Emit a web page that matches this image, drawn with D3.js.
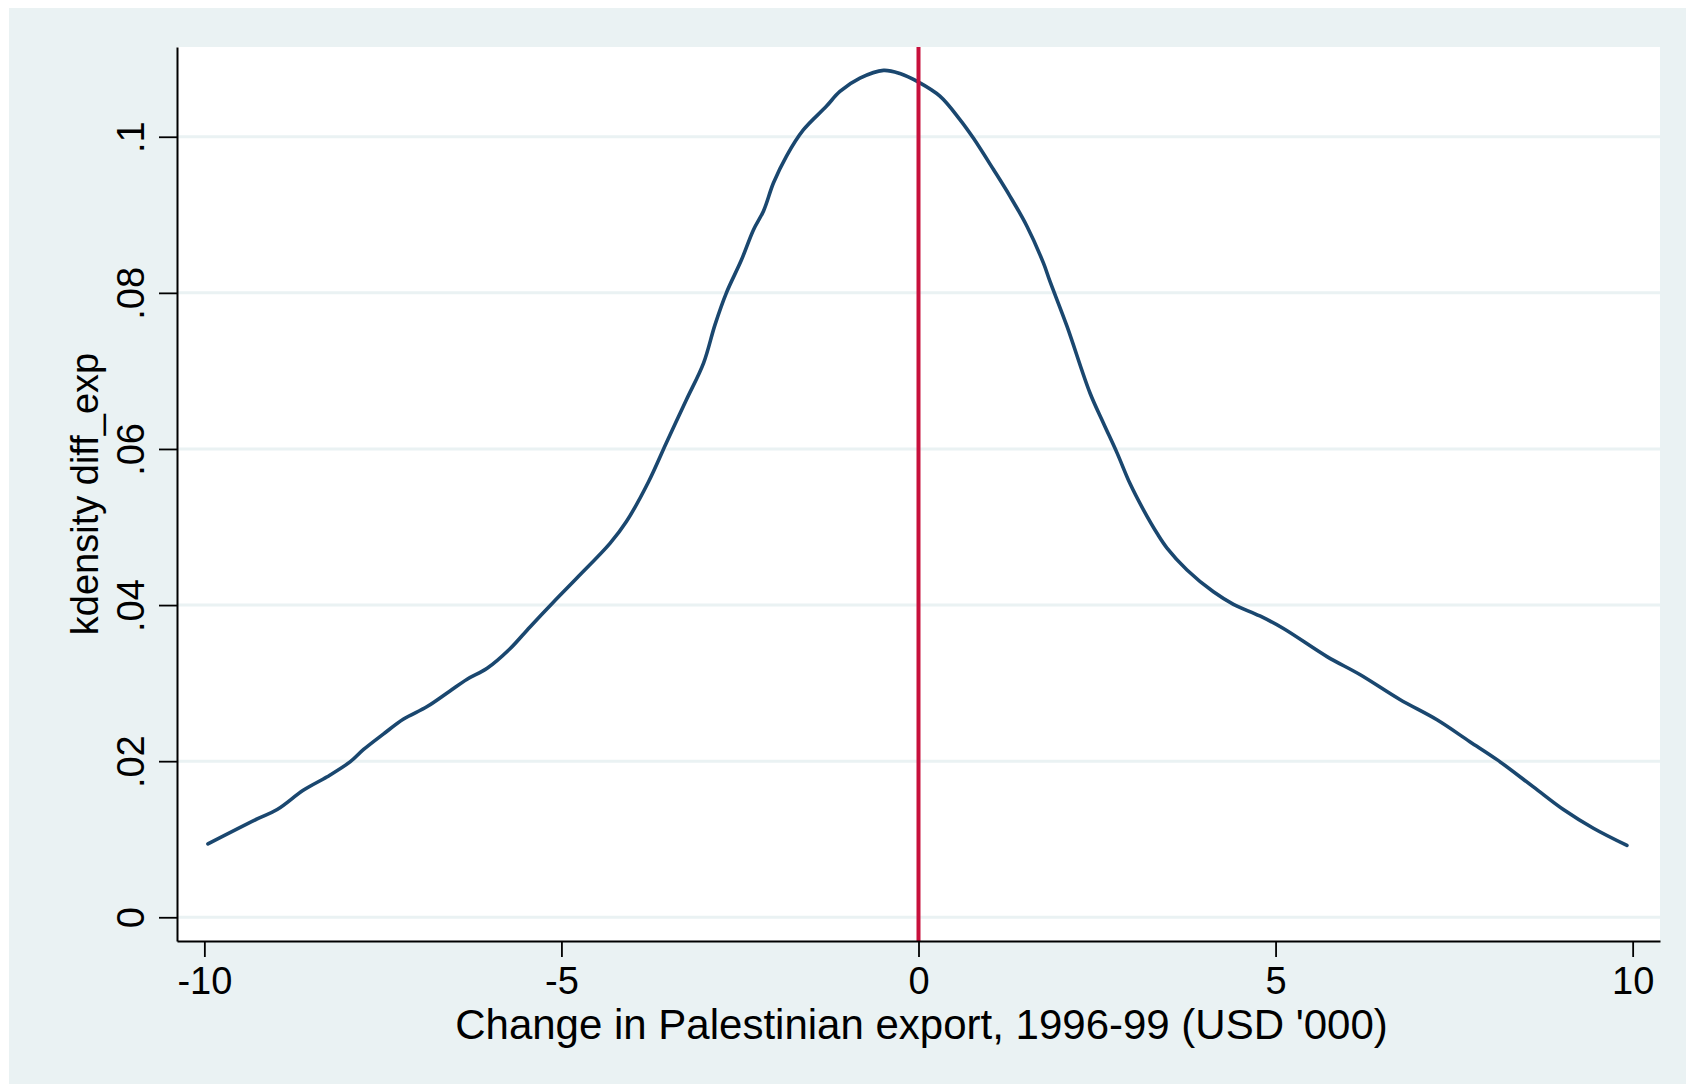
<!DOCTYPE html>
<html>
<head>
<meta charset="utf-8">
<script src="https://cdn.jsdelivr.net/npm/d3@7"></script>
<style>
  html, body { margin: 0; padding: 0; background: #ffffff; }
  svg { display: block; }
  text { font-family: "Liberation Sans", Arial, Helvetica, sans-serif; fill: #000; }
</style>
</head>
<body>
<svg id="chart" width="1686" height="1084"></svg>
<script>
// ---- data ----
const densityX = [-9.95, -9.26, -8.98, -8.61, -8.28, -7.96, -7.77, -7.49, -7.21, -6.88,
  -6.56, -6.32, -6.04, -5.72, -5.44, -5.11, -4.78, -4.32, -4.09, -3.78,
  -3.53, -3.25, -3.01, -2.85, -2.69, -2.48, -2.31, -2.17, -2.03, -1.85,
  -1.61, -1.29, -1.10, -0.82, -0.49, -0.26, 0.00, 0.30, 0.58, 0.77,
  1.05, 1.28, 1.52, 1.75, 1.84, 2.08, 2.40, 2.59, 2.78, 2.96,
  3.15, 3.34, 3.48, 3.76, 4.13, 4.41, 4.78, 5.11, 5.72, 6.18,
  6.74, 7.26, 7.72, 8.10, 8.61, 9.03, 9.45, 9.92];
const densityY = [0.0094, 0.0126, 0.0138, 0.0163, 0.0180, 0.0199, 0.0215, 0.0235, 0.0254, 0.0270,
  0.0290, 0.0305, 0.0319, 0.0344, 0.0372, 0.0404, 0.0435, 0.0479, 0.0507, 0.0558,
  0.0608, 0.0663, 0.0710, 0.0759, 0.0800, 0.0842, 0.0881, 0.0905, 0.0941, 0.0975,
  0.1009, 0.1039, 0.1058, 0.1075, 0.1085, 0.1081, 0.1070, 0.1052, 0.1022, 0.0998,
  0.0958, 0.0924, 0.0885, 0.0838, 0.0815, 0.0757, 0.0672, 0.0633, 0.0595, 0.0556,
  0.0522, 0.0492, 0.0473, 0.0445, 0.0417, 0.0401, 0.0386, 0.0370, 0.0334, 0.0311,
  0.0279, 0.0253, 0.0225, 0.0202, 0.0167, 0.0138, 0.0114, 0.0092];
const xTicks = [-10, -5, 0, 5, 10];
const xTickLabels = ["-10", "-5", "0", "5", "10"];
const yTicks = [0, 0.02, 0.04, 0.06, 0.08, 0.1];
const yTickLabels = ["0", ".02", ".04", ".06", ".08", ".1"];
const xLineAt = 0;
const xTitle = "Change in Palestinian export, 1996-99 (USD '000)";
const yTitle = "kdensity diff_exp";

// ---- layout ----
const W = 1686, H = 1084;
const plot = { left: 177, right: 1660, top: 47, bottom: 941 };
const bg = "#eaf2f3";

const svg = d3.select("#chart");

svg.append("rect").attr("x", 0).attr("y", 0).attr("width", W).attr("height", H).attr("fill", "#ffffff");
svg.append("rect").attr("x", 9).attr("y", 8).attr("width", W - 9).attr("height", H - 8).attr("fill", bg);
svg.append("rect")
  .attr("x", plot.left).attr("y", plot.top)
  .attr("width", plot.right - plot.left).attr("height", plot.bottom - plot.top)
  .attr("fill", "#ffffff");

const x = d3.scaleLinear().domain([-10.383, 10.383]).range([plot.left, plot.right]);
const y = d3.scaleLinear().domain([-0.00304, 0.1115]).range([plot.bottom, plot.top]);

// gridlines
svg.append("g").selectAll("line").data(yTicks).join("line")
  .attr("x1", plot.left).attr("x2", plot.right)
  .attr("y1", d => y(d)).attr("y2", d => y(d))
  .attr("stroke", bg).attr("stroke-width", 3);

// density curve
const pts = densityX.map((v, i) => [v, densityY[i]]);
svg.append("path")
  .datum(pts)
  .attr("fill", "none")
  .attr("stroke", "#1a476f")
  .attr("stroke-width", 3.6)
  .attr("stroke-linejoin", "round")
  .attr("stroke-linecap", "round")
  .attr("d", d3.line().x(d => x(d[0])).y(d => y(d[1])).curve(d3.curveCatmullRom.alpha(0.5)));

// vertical reference line
svg.append("line")
  .attr("x1", x(xLineAt)).attr("x2", x(xLineAt))
  .attr("y1", plot.top).attr("y2", plot.bottom)
  .attr("stroke", "#c8103c").attr("stroke-width", 4);

// y axis
const yAxis = svg.append("g")
  .attr("transform", `translate(${plot.left},0)`)
  .call(d3.axisLeft(y).tickValues(yTicks).tickSize(18).tickSizeOuter(0)
    .tickFormat((d, i) => yTickLabels[i]));
yAxis.select(".domain").attr("stroke", "#000").attr("stroke-width", 2);
yAxis.selectAll(".tick line").attr("stroke", "#000").attr("stroke-width", 1.8);
yAxis.selectAll(".tick text")
  .attr("x", null).attr("dy", null)
  .attr("text-anchor", "middle")
  .attr("transform", "translate(-33,0) rotate(-90)")
  .attr("font-size", 38)
  .attr("font-family", '"Liberation Sans", Arial, sans-serif')
  .attr("fill", "#000");

// x axis
const xAxis = svg.append("g")
  .attr("transform", `translate(0,${plot.bottom})`)
  .call(d3.axisBottom(x).tickValues(xTicks).tickSize(16).tickSizeOuter(0)
    .tickFormat((d, i) => xTickLabels[i]));
xAxis.select(".domain").attr("stroke", "#000").attr("stroke-width", 2);
xAxis.selectAll(".tick line").attr("stroke", "#000").attr("stroke-width", 1.8);
xAxis.selectAll(".tick text")
  .attr("y", 53).attr("dy", null)
  .attr("text-anchor", "middle")
  .attr("font-size", 38)
  .attr("font-family", '"Liberation Sans", Arial, sans-serif')
  .attr("fill", "#000");

// titles
svg.append("text")
  .attr("x", (plot.left + plot.right) / 2 + 3).attr("y", 1039)
  .attr("text-anchor", "middle").attr("font-size", 42)
  .text(xTitle);
svg.append("text")
  .attr("transform", `translate(98,${(plot.top + plot.bottom) / 2}) rotate(-90)`)
  .attr("text-anchor", "middle").attr("font-size", 38)
  .text(yTitle);
</script>
</body>
</html>
